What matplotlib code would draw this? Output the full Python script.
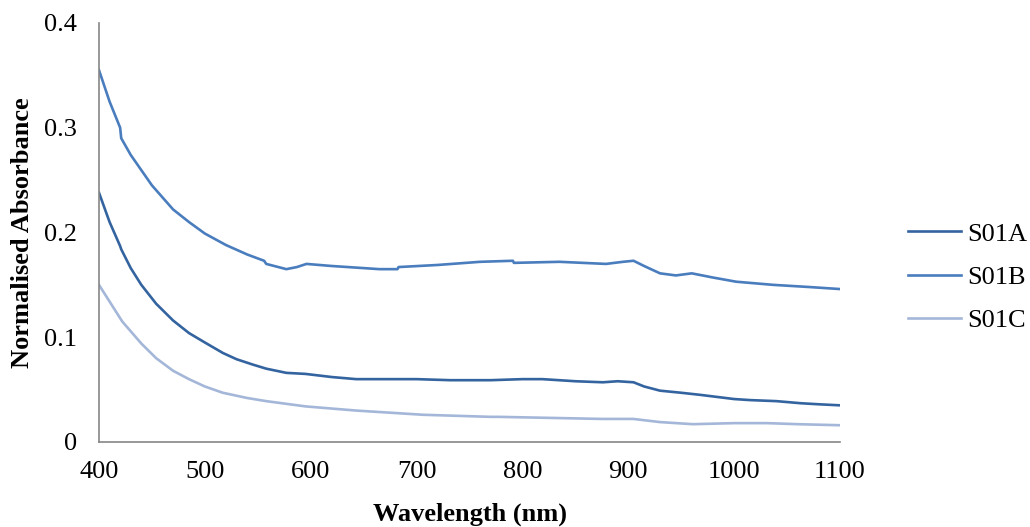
import matplotlib
matplotlib.use('Agg')
import matplotlib.pyplot as plt

# wavelength (nm) / normalised absorbance
wl_a = [400, 410, 420, 421, 430, 440, 454, 470, 485, 500, 517, 530, 545, 558, 577, 595,
        620, 643, 680, 700, 732, 770, 800, 819, 850, 876, 890, 905, 915, 930, 950, 968,
        1000, 1015, 1040, 1063, 1080, 1100]
s01a = [0.238, 0.210, 0.187, 0.184, 0.166, 0.150, 0.132, 0.116, 0.104, 0.095, 0.085, 0.079,
        0.074, 0.070, 0.066, 0.065, 0.062, 0.060, 0.060, 0.060, 0.059, 0.059, 0.060, 0.060,
        0.058, 0.057, 0.058, 0.057, 0.053, 0.049, 0.047, 0.045, 0.041, 0.040, 0.039, 0.037,
        0.036, 0.035]

wl_b = [400, 410, 420, 421, 430, 450, 470, 485, 500, 520, 540, 556, 558, 577, 587, 596,
        620, 650, 665, 682, 683, 720, 760, 791, 792, 835, 879, 895, 905, 915, 930, 945,
        960, 980, 1002, 1037, 1070, 1100]
s01b = [0.355, 0.325, 0.300, 0.290, 0.274, 0.245, 0.222, 0.210, 0.199, 0.188, 0.179, 0.173,
        0.170, 0.165, 0.167, 0.170, 0.168, 0.166, 0.165, 0.165, 0.167, 0.169, 0.172, 0.173,
        0.171, 0.172, 0.170, 0.172, 0.173, 0.168, 0.161, 0.159, 0.161, 0.157, 0.153, 0.150,
        0.148, 0.146]

wl_c = [400, 422, 440, 454, 470, 485, 500, 517, 540, 558, 595, 643, 706, 770, 778, 876,
        905, 930, 961, 1000, 1031, 1060, 1100]
s01c = [0.150, 0.115, 0.094, 0.080, 0.068, 0.060, 0.053, 0.047, 0.042, 0.039, 0.034, 0.030,
        0.026, 0.024, 0.024, 0.022, 0.022, 0.019, 0.017, 0.018, 0.018, 0.017, 0.016]

x_ticks = [400, 500, 600, 700, 800, 900, 1000, 1100]
y_ticks = [0, 0.1, 0.2, 0.3, 0.4]
y_tick_labels = ['0', '0.1', '0.2', '0.3', '0.4']

plt.rcParams['font.family'] = ['Liberation Serif', 'DejaVu Serif']

fig = plt.figure(figsize=(10.3, 5.27), dpi=100)
ax = fig.add_axes([0.0961, 0.1613, 0.7194, 0.7951])

ax.plot(wl_a, s01a, color='#34649F', lw=1.9, label='S01A')
ax.plot(wl_b, s01b, color='#4A7DBD', lw=1.9, label='S01B')
ax.plot(wl_c, s01c, color='#A4B7D9', lw=1.9, label='S01C')

ax.set_xlim(400, 1100)
ax.set_ylim(0, 0.4)
ax.set_xticks(x_ticks)
ax.set_yticks(y_ticks)
ax.set_yticklabels(y_tick_labels)
ax.tick_params(length=0, labelsize=19, colors='black')
ax.tick_params(axis='x', pad=14)
ax.tick_params(axis='y', pad=16)

for side in ['top', 'right']:
    ax.spines[side].set_visible(False)
for side in ['left', 'bottom']:
    ax.spines[side].set_color('#868686')
    ax.spines[side].set_linewidth(1.2)

# axis titles placed by hand, like the excel layout
fig.text(0.4563, 0.024, 'Wavelength (nm)', fontsize=19, fontweight='bold',
         ha='center', va='center')
fig.text(0.0214, 0.559, 'Normalised Absorbance', fontsize=19, fontweight='bold',
         ha='center', va='center', rotation=90)

fig.legend(loc='center left', bbox_to_anchor=(0.8816, 0.474), frameon=False, fontsize=19,
           handlelength=2.0, handletextpad=0.25, labelspacing=0.75, borderpad=0,
           borderaxespad=0)

fig.savefig('out.png', dpi=100)
